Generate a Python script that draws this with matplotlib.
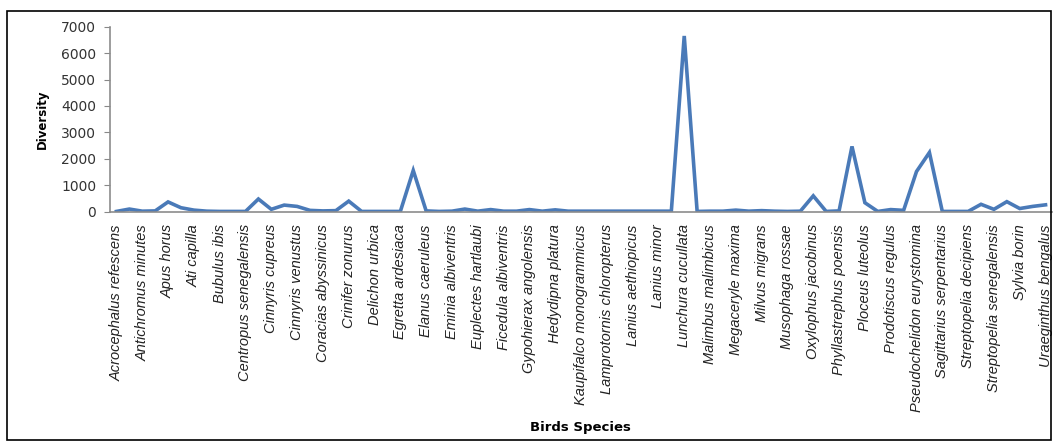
import matplotlib
matplotlib.use("Agg")
import matplotlib.pyplot as plt
from matplotlib.patches import Rectangle
import numpy as np

# labelled species (every second category carries a label)
species = ["Acrocephalus refescens", "Antichromus minutes", "Apus horus",
           "Ati capilla", "Bubulus ibis", "Centropus senegalensis",
           "Cinnyris cupreus", "Cinnyris venustus", "Coracias abyssinicus",
           "Crinifer zonurus", "Delichon urbica", "Egretta ardesiaca",
           "Elanus caeruleus", "Eminia albiventris", "Euplectes hartlaubi",
           "Ficedula albiventris", "Gypohierax angolensis", "Hedydipna platura",
           "Kaupifalco monogrammicus", "Lamprotornis chloropterus",
           "Lanius aethiopicus", "Lanius minor", "Lunchura cucullata",
           "Malimbus malimbicus", "Megaceryle maxima", "Milvus migrans",
           "Musophaga rossae", "Oxylophus jacobinus", "Phyllastrephus poensis",
           "Ploceus luteolus", "Prodotiscus regulus",
           "Pseudochelidon eurystomina", "Sagittarius serpentarius",
           "Streptopelia decipiens", "Streptopelia senegalensis",
           "Sylvia borin", "Uraeginthus bengalus"]

# diversity per category (73 categories)
diversity = [10, 100, 20, 30, 370, 150, 60, 20, 10, 10,
             10, 480, 90, 250, 200, 50, 30, 40, 400, 10,
             10, 10, 10, 1560, 30, 10, 20, 100, 20, 80,
             20, 20, 80, 20, 70, 20, 20, 20, 20, 20,
             20, 20, 20, 20, 6650, 10, 20, 20, 60, 20,
             40, 20, 10, 20, 600, 10, 30, 2470, 340, 10,
             80, 50, 1520, 2240, 10, 10, 10, 280, 90, 380,
             120, 200, 260]

fig = plt.figure(figsize=(10.55, 4.45), dpi=100)
ax = fig.add_axes([110/1055, 1 - 211.7/445, 942/1055, 185/445])

x = np.arange(len(diversity))
ax.plot(x, diversity, color="#4a7ab8", lw=2.6, solid_joinstyle="miter")

ax.set_xlim(-0.5, len(diversity) - 0.5)
ax.set_ylim(0, 7000)
ax.set_yticks(np.arange(0, 7001, 1000))
ax.set_xticks(x[::2])
ax.set_xticklabels(species, rotation=90, style="italic", fontsize=10.5,
                   family="Liberation Sans", color="#222222")
ax.tick_params(axis="x", length=0, pad=9)
ax.tick_params(axis="y", length=4, color="#888888", labelsize=10,
               labelcolor="#333333", pad=6)

for s in ["top", "right"]:
    ax.spines[s].set_visible(False)
for s in ["left", "bottom"]:
    ax.spines[s].set_color("#8c8c8c")
    ax.spines[s].set_linewidth(1.2)

ax.set_ylabel("Diversity", fontweight="bold", fontsize=8.5, labelpad=9)
fig.text(580/1055, 1 - 427/445, "Birds Species", ha="center", va="center",
         fontweight="bold", fontsize=9.5)

fig.patches.append(Rectangle((7/1055, 1 - 440/445), 1044/1055, 429/445,
                             transform=fig.transFigure, fill=False,
                             edgecolor="black", lw=1.2))

fig.savefig("out.png", dpi=100)
